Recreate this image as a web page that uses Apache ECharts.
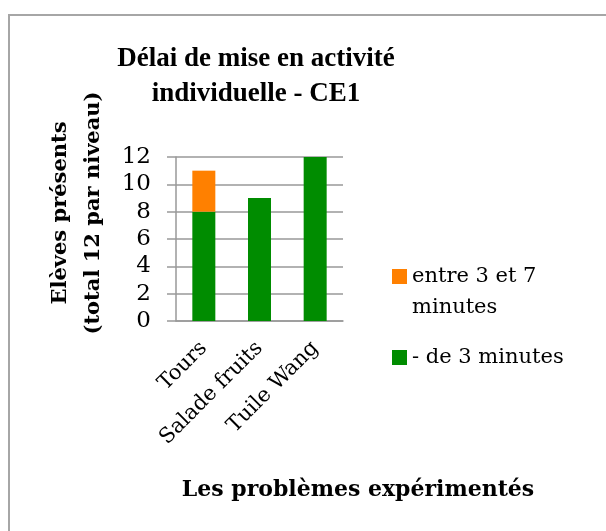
<!DOCTYPE html>
<html>
<head>
<meta charset="utf-8">
<script src="https://cdn.jsdelivr.net/npm/echarts@6/dist/echarts.min.js"></script>
<style>
  html, body { margin: 0; padding: 0; background: #fff; }
  #chart { width: 606px; height: 531px; }
</style>
</head>
<body>
<div id="chart"></div>
<script>
// données
const categories = ['Tours', 'Salade fruits', 'Tuile Wang'];
const seriesNames = ['- de 3 minutes', 'entre 3 et 7 minutes'];
const moinsDe3 = [8, 9, 12];
const entre3et7 = [3, 0, 0];
const yMin = 0, yMax = 12, yStep = 2;

const serif = 'DejaVu Serif';
const chart = echarts.init(document.getElementById('chart'));

chart.setOption({
  animation: false,
  backgroundColor: '#fff',
  title: [
    {
      text: 'Délai de mise en activité\nindividuelle - CE1',
      left: 251,
      top: 37,
      textAlign: 'center',
      textStyle: {
        fontFamily: 'Liberation Serif',
        fontWeight: 'bold',
        fontSize: 27,
        lineHeight: 35,
        color: '#000'
      }
    },
    {
      text: 'Les problèmes expérimentés',
      left: 353,
      top: 474,
      textAlign: 'center',
      textStyle: {
        fontFamily: serif,
        fontWeight: 'bold',
        fontSize: 22,
        color: '#000'
      }
    }
  ],
  legend: [
    {
      data: [seriesNames[1]],
      left: 392,
      top: 230,
      padding: 0,
      icon: 'rect',
      itemWidth: 15,
      itemHeight: 15,
      // ligne vide en tête pour aligner le carré sur la première ligne
      formatter: () => '\nentre 3 et 7\nminutes',
      textStyle: { fontFamily: serif, fontSize: 21, lineHeight: 31, color: '#000' }
    },
    {
      data: [seriesNames[0]],
      left: 392,
      top: 342,
      padding: 0,
      icon: 'rect',
      itemWidth: 15,
      itemHeight: 15,
      textStyle: { fontFamily: serif, fontSize: 21, lineHeight: 31, color: '#000' }
    }
  ],
  grid: { left: 176, right: 263, top: 157, bottom: 210 },
  xAxis: {
    type: 'category',
    data: categories,
    axisLine: { lineStyle: { color: '#999', width: 1.5 } },
    axisTick: { length: 7, lineStyle: { color: '#999', width: 1.5 } },
    axisLabel: {
      interval: 0,
      rotate: 45,
      margin: 24,
      fontFamily: serif,
      fontSize: 21,
      color: '#000'
    }
  },
  yAxis: {
    type: 'value',
    min: yMin,
    max: yMax,
    interval: yStep,
    axisLine: { show: true, lineStyle: { color: '#999', width: 1.5 } },
    axisTick: { show: true, length: 9, lineStyle: { color: '#999', width: 1.5 } },
    splitLine: { lineStyle: { color: '#999', width: 1.5 } },
    axisLabel: {
      margin: 25,
      fontFamily: serif,
      fontSize: 23,
      color: '#000'
    }
  },
  series: [
    {
      name: seriesNames[0],
      type: 'bar',
      stack: 'total',
      barWidth: 23,
      itemStyle: { color: '#008c00' },
      data: moinsDe3
    },
    {
      name: seriesNames[1],
      type: 'bar',
      stack: 'total',
      barWidth: 23,
      itemStyle: { color: '#ff8000' },
      data: entre3et7
    }
  ],
  graphic: [
    {
      type: 'rect',
      shape: { x: 9, y: 15, width: 640, height: 560 },
      style: { fill: 'none', stroke: '#a6a6a6', lineWidth: 2 },
      silent: true
    },
    {
      type: 'text',
      x: 77,
      y: 213,
      rotation: Math.PI / 2,
      style: {
        text: 'Elèves présents\n(total 12 par niveau)',
        font: 'bold 21px "DejaVu Serif"',
        lineHeight: 33,
        align: 'center',
        verticalAlign: 'middle',
        fill: '#000'
      }
    }
  ]
});
</script>
</body>
</html>
